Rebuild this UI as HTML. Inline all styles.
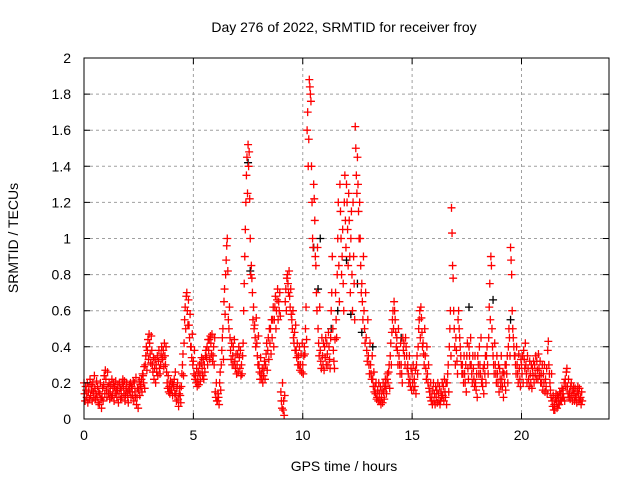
<!DOCTYPE html>
<html><head><meta charset="utf-8"><style>
html,body{margin:0;padding:0;background:#fff}
svg{display:block;font-family:"Liberation Sans",sans-serif}
</style></head><body>
<svg id="chart" width="640" height="480" viewBox="0 0 640 480">
<rect width="640" height="480" fill="#fff"/>
<g id="grid"></g>
<g id="black"></g>
<g id="red"></g>
<rect x="84" y="58" width="525" height="361" fill="none" stroke="#000" stroke-width="1"/>
<g id="ticks"></g>
<text x="344" y="32" font-size="14" text-anchor="middle">Day 276 of 2022, SRMTID for receiver froy</text>
<text x="344" y="471" font-size="14" text-anchor="middle">GPS time / hours</text>
<text x="18" y="238" font-size="14" text-anchor="middle" transform="rotate(-90 18 238)">SRMTID / TECUs</text>
</svg>
<script>
const xTicks=[0,5,10,15,20];
const yTicks=[0,0.2,0.4,0.6,0.8,1,1.2,1.4,1.6,1.8,2];
const yTickLabels=["0","0.2","0.4","0.6","0.8","1","1.2","1.4","1.6","1.8","2"];
const hours=[0,0.1,0.2,0.3,0.4,0.5,0.6,0.7,0.8,0.9,1.0,1.1,1.2,1.3,1.4,1.5,1.6,1.7,1.8,1.9,2.0,2.1,2.2,2.3,2.4,2.5,2.6,2.7,2.8,2.9,3.0,3.1,3.2,3.3,3.4,3.5,3.6,3.7,3.8,3.9,4.0,4.1,4.2,4.3,4.4,4.5,4.6,4.7,4.8,4.9,5.0,5.1,5.2,5.3,5.4,5.5,5.6,5.7,5.8,5.9,6.0,6.1,6.2,6.3,6.4,6.5,6.6,6.7,6.8,6.9,7.0,7.1,7.2,7.3,7.4,7.5,7.6,7.7,7.8,7.9,8.0,8.1,8.2,8.3,8.4,8.5,8.6,8.7,8.8,8.9,9.0,9.1,9.2,9.3,9.4,9.5,9.6,9.7,9.8,9.9,10.0,10.1,10.2,10.3,10.4,10.5,10.6,10.7,10.8,10.9,11.0,11.1,11.2,11.3,11.4,11.5,11.6,11.7,11.8,11.9,12.0,12.1,12.2,12.3,12.4,12.5,12.6,12.7,12.8,12.9,13.0,13.1,13.2,13.3,13.4,13.5,13.6,13.7,13.8,13.9,14.0,14.1,14.2,14.3,14.4,14.5,14.6,14.7,14.8,14.9,15.0,15.1,15.2,15.3,15.4,15.5,15.6,15.7,15.8,15.9,16.0,16.1,16.2,16.3,16.4,16.5,16.6,16.7,16.8,16.9,17.0,17.1,17.2,17.3,17.4,17.5,17.6,17.7,17.8,17.9,18.0,18.1,18.2,18.3,18.4,18.5,18.6,18.7,18.8,18.9,19.0,19.1,19.2,19.3,19.4,19.5,19.6,19.7,19.8,19.9,20.0,20.1,20.2,20.3,20.4,20.5,20.6,20.7,20.8,20.9,21.0,21.1,21.2,21.3,21.4,21.5,21.6,21.7,21.8,21.9,22.0,22.1,22.2,22.3,22.4,22.5,22.6,22.7];
const srmtid=[
[0.2,0.14,0.1,0.18],[0.16,0.12,0.2,0.09],[0.15,0.18,0.11,0.22],[0.13,0.19,0.16,0.1],[0.2,0.15,0.12,0.24],[0.17,0.11,0.14,0.21],[0.12,0.18,0.09,0.15],[0.08,0.14,0.2,0.11],[0.06,0.12,0.17,0.1],[0.19,0.24,0.14,0.27],
[0.22,0.16,0.12,0.26],[0.18,0.14,0.2,0.11],[0.15,0.19,0.12,0.22],[0.13,0.17,0.2,0.1],[0.18,0.14,0.21,0.16],[0.12,0.16,0.19,0.09],[0.14,0.2,0.17,0.11],[0.16,0.12,0.2,0.22],[0.18,0.14,0.21,0.1],[0.13,0.17,0.2,0.15],
[0.12,0.09,0.16,0.19],[0.15,0.2,0.12,0.18],[0.17,0.13,0.21,0.1],[0.2,0.15,0.12,0.23],[0.08,0.12,0.17,0.06],[0.16,0.21,0.13,0.19],[0.18,0.22,0.15,0.25],[0.24,0.2,0.29,0.17],[0.3,0.35,0.4,0.27],[0.38,0.44,0.33,0.47],
[0.42,0.36,0.31,0.46],[0.38,0.3,0.26,0.34],[0.22,0.28,0.33,0.2],[0.3,0.26,0.35,0.24],[0.32,0.38,0.28,0.25],[0.3,0.36,0.4,0.33],[0.34,0.38,0.29,0.42],[0.35,0.3,0.4,0.26],[0.2,0.17,0.24,0.15],[0.18,0.14,0.21,0.16],
[0.16,0.2,0.13,0.19],[0.18,0.22,0.14,0.26],[0.14,0.1,0.17,0.2],[0.11,0.07,0.14,0.17],[0.13,0.09,0.18,0.25],[0.3,0.36,0.24,0.42],[0.55,0.62,0.5,0.68],[0.7,0.6,0.52,0.66],[0.52,0.45,0.58,0.4],[0.4,0.34,0.47,0.3],
[0.32,0.25,0.38,0.22],[0.24,0.2,0.28,0.18],[0.22,0.26,0.19,0.3],[0.25,0.21,0.31,0.34],[0.28,0.24,0.33,0.22],[0.3,0.26,0.35,0.38],[0.34,0.4,0.3,0.44],[0.38,0.44,0.33,0.46],[0.42,0.36,0.47,0.32],[0.35,0.4,0.3,0.45],
[0.15,0.12,0.2,0.1],[0.1,0.14,0.12,0.08],[0.2,0.26,0.16,0.3],[0.38,0.45,0.5,0.33],[0.65,0.72,0.58,0.8],[0.88,0.96,1.0,0.82],[0.55,0.5,0.62,0.45],[0.38,0.33,0.42,0.3],[0.35,0.4,0.3,0.44],[0.32,0.28,0.36,0.25],
[0.3,0.36,0.26,0.4],[0.34,0.28,0.38,0.24],[0.3,0.25,0.35,0.42],[0.6,0.75,0.9,1.05],[1.2,1.35,1.45,1.25],[1.52,1.4,1.48,1.22],[1.0,0.8,0.85,0.78],[0.7,0.55,0.62,0.5],[0.52,0.45,0.4,0.56],[0.42,0.35,0.3,0.46],
[0.3,0.26,0.22,0.34],[0.25,0.22,0.28,0.2],[0.24,0.28,0.32,0.22],[0.3,0.36,0.42,0.27],[0.38,0.45,0.33,0.5],[0.42,0.5,0.36,0.55],[0.45,0.55,0.62,0.4],[0.55,0.62,0.68,0.5],[0.6,0.66,0.72,0.55],[0.65,0.6,0.7,0.57],
[0.15,0.1,0.06,0.2],[0.05,0.1,0.02,0.13],[0.65,0.72,0.6,0.78],[0.8,0.75,0.7,0.82],[0.68,0.62,0.72,0.58],[0.55,0.5,0.6,0.45],[0.42,0.48,0.38,0.52],[0.38,0.34,0.42,0.3],[0.35,0.3,0.4,0.27],[0.3,0.36,0.26,0.42],
[0.3,0.25,0.35,0.4],[0.36,0.5,0.62,0.44],[1.6,1.7,1.4,1.55],[1.88,1.84,1.8,1.76],[1.4,1.2,1.0,0.95],[1.3,1.22,1.1,0.9],[0.85,0.7,0.6,0.95],[0.5,0.42,0.35,0.62],[0.38,0.32,0.28,0.45],[0.35,0.3,0.42,0.27],
[0.4,0.34,0.45,0.3],[0.42,0.36,0.3,0.48],[0.4,0.33,0.28,0.45],[0.6,0.7,0.9,0.5],[0.38,0.32,0.28,0.44],[0.7,0.55,0.45,0.8],[1.0,1.2,0.85,0.65],[1.3,1.15,1.0,0.8],[0.9,1.05,0.75,0.6],[1.2,1.35,1.1,0.95],
[1.3,1.2,1.05,0.85],[1.25,1.1,0.9,0.7],[1.0,1.15,0.8,0.6],[1.2,0.9,0.75,0.55],[1.62,1.5,1.35,1.25],[1.45,1.3,1.15,1.0],[1.2,1.0,0.85,0.7],[0.75,0.65,0.55,0.9],[0.6,0.5,0.42,0.7],[0.45,0.38,0.32,0.55],
[0.35,0.3,0.25,0.42],[0.3,0.25,0.22,0.35],[0.22,0.18,0.26,0.15],[0.18,0.14,0.2,0.11],[0.12,0.16,0.1,0.2],[0.14,0.1,0.18,0.08],[0.12,0.16,0.09,0.2],[0.15,0.11,0.18,0.22],[0.18,0.14,0.22,0.25],[0.2,0.26,0.3,0.17],
[0.35,0.42,0.3,0.48],[0.55,0.6,0.5,0.65],[0.6,0.55,0.48,0.4],[0.45,0.38,0.3,0.5],[0.35,0.3,0.25,0.42],[0.3,0.25,0.2,0.45],[0.38,0.42,0.35,0.3],[0.45,0.4,0.35,0.28],[0.3,0.25,0.2,0.35],[0.22,0.18,0.28,0.16],
[0.25,0.2,0.3,0.16],[0.22,0.18,0.27,0.14],[0.3,0.35,0.25,0.4],[0.5,0.55,0.6,0.45],[0.62,0.56,0.48,0.4],[0.42,0.36,0.3,0.5],[0.35,0.28,0.22,0.4],[0.25,0.2,0.3,0.17],[0.15,0.12,0.2,0.1],[0.12,0.08,0.16,0.2],
[0.1,0.14,0.08,0.18],[0.12,0.16,0.09,0.2],[0.14,0.1,0.18,0.08],[0.1,0.15,0.12,0.2],[0.13,0.18,0.1,0.22],[0.15,0.12,0.2,0.08],[0.2,0.25,0.3,0.15],[0.4,0.5,0.6,0.35],[1.17,1.03,0.85,0.78],[0.6,0.5,0.4,0.3],
[0.45,0.38,0.32,0.25],[0.55,0.6,0.5,0.45],[0.4,0.35,0.3,0.25],[0.3,0.25,0.2,0.35],[0.25,0.2,0.3,0.15],[0.35,0.42,0.28,0.22],[0.4,0.35,0.3,0.45],[0.3,0.25,0.2,0.35],[0.28,0.22,0.18,0.35],[0.2,0.16,0.25,0.12],
[0.35,0.3,0.25,0.4],[0.3,0.25,0.45,0.2],[0.22,0.18,0.28,0.14],[0.3,0.25,0.35,0.2],[0.35,0.4,0.3,0.25],[0.45,0.62,0.75,0.55],[0.9,0.85,0.5,0.4],[0.35,0.3,0.25,0.42],[0.3,0.25,0.2,0.35],[0.25,0.2,0.3,0.15],
[0.28,0.22,0.18,0.35],[0.22,0.18,0.26,0.12],[0.25,0.2,0.3,0.16],[0.3,0.25,0.35,0.2],[0.4,0.5,0.45,0.35],[0.95,0.88,0.8,0.6],[0.5,0.45,0.4,0.35],[0.35,0.3,0.25,0.4],[0.3,0.25,0.2,0.36],[0.28,0.22,0.18,0.33],
[0.3,0.25,0.35,0.2],[0.38,0.33,0.28,0.42],[0.3,0.25,0.2,0.35],[0.28,0.22,0.18,0.32],[0.25,0.2,0.3,0.17],[0.28,0.24,0.32,0.2],[0.3,0.25,0.35,0.22],[0.32,0.27,0.22,0.36],[0.28,0.24,0.32,0.2],[0.25,0.2,0.3,0.16],
[0.25,0.2,0.3,0.15],[0.22,0.18,0.28,0.14],[0.38,0.43,0.3,0.25],[0.2,0.16,0.12,0.25],[0.1,0.07,0.13,0.05],[0.08,0.05,0.11,0.14],[0.1,0.06,0.13,0.08],[0.12,0.08,0.15,0.1],[0.14,0.1,0.17,0.12],[0.16,0.12,0.2,0.1],
[0.22,0.18,0.26,0.28],[0.18,0.14,0.22,0.12],[0.15,0.11,0.18,0.2],[0.13,0.1,0.16,0.18],[0.14,0.1,0.17,0.12],[0.12,0.09,0.15,0.18],[0.14,0.1,0.17,0.11],[0.12,0.08,0.15,0.1]
];
const blackHours=[7.5,7.6,10.5,10.7,10.8,11.3,11.6,12.0,12.2,12.5,12.7,13.2,14.5,17.6,18.7,19.5];
const blackValues=[1.42,0.82,0.95,0.72,1.0,0.5,0.6,0.88,0.58,0.75,0.48,0.4,0.45,0.62,0.66,0.55];

const X0=84,X1=609,Y0=419,Y1=58,XMAX=24,YMAX=2;
const xs=v=>X0+(X1-X0)*v/XMAX;
const ys=v=>Y0-(Y0-Y1)*v/YMAX;
const NS="http://www.w3.org/2000/svg";
const grid=document.getElementById('grid'),ticks=document.getElementById('ticks');
function mk(tag,parent,attrs){const e=document.createElementNS(NS,tag);for(const k in attrs)e.setAttribute(k,attrs[k]);parent.appendChild(e);return e;}
yTicks.forEach((t,i)=>{const y=ys(t);
 if(i>0&&i<yTicks.length-1){const g=mk('line',grid,{x1:X0,x2:X1,y1:y,y2:y,stroke:'#a0a0a0','stroke-dasharray':'3,3'});
 
 }
 const tk=mk('path',ticks,{d:`M${X0} ${y}h6M${X1} ${y}h-6`,stroke:'#000'});
 
 
 const tl=mk('text',ticks,{x:X0-13,y:y+5,'font-size':'14','text-anchor':'end'});tl.textContent=yTickLabels[i];
 
 
});
xTicks.forEach(t=>{const x=xs(t);
 if(t>0){const g=mk('line',grid,{x1:x,x2:x,y1:Y0,y2:Y1,stroke:'#a0a0a0','stroke-dasharray':'3,3'});
 
 }
 const tk=mk('path',ticks,{d:`M${x} ${Y0}v-6M${x} ${Y1}v6`,stroke:'#000'});
 
 
 const tl=mk('text',ticks,{x:x,y:Y0+21,'font-size':'14','text-anchor':'middle'});tl.textContent=String(t);
 
 
});
function plus(g,t,v,color,name){const x=xs(t),y=ys(v);
 const p=mk('path',g,{d:`M${x-4} ${y}h8M${x} ${y-4}v8`,stroke:color,'stroke-width':'1.3'});
 
 }
const bg=document.getElementById('black');
blackHours.forEach((t,i)=>plus(bg,t,blackValues[i],'#000','black-point'));
const rg=document.getElementById('red');
hours.forEach((t,i)=>{const vals=srmtid[i]||[];vals.forEach((v,j)=>plus(rg,t+j*0.025,v,'#ff0000','red-point'));});
</script>
</body></html>
